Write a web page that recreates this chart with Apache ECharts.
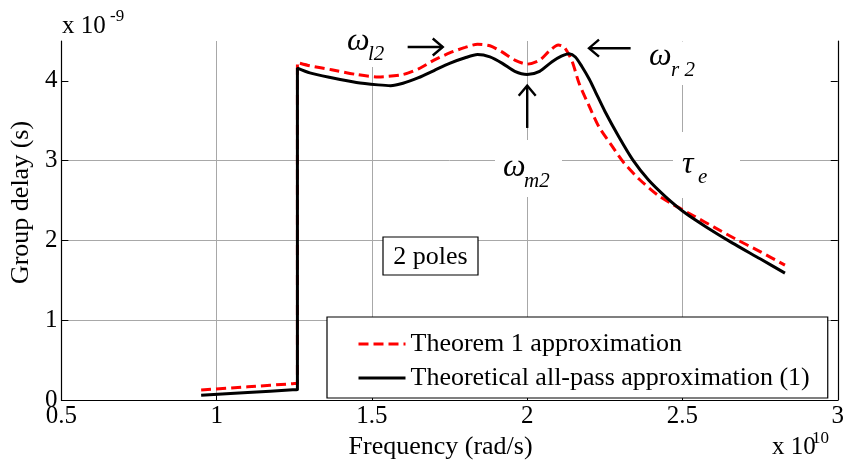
<!DOCTYPE html>
<html>
<head>
<meta charset="utf-8">
<script src="https://cdn.jsdelivr.net/npm/echarts@6/dist/echarts.min.js"></script>
<style>
  html, body { margin: 0; padding: 0; background: #ffffff; }
  #chart { width: 847px; height: 468px; }
</style>
</head>
<body>
<div id="chart"></div>
<script>
// Frequency axis is in units of 1e10 rad/s, group delay in units of 1e-9 s.
const freqTheorem  = [0.95, 1.10, 1.245, 1.26, 1.26, 1.30, 1.37, 1.45, 1.52, 1.60, 1.65, 1.70, 1.75, 1.80, 1.84, 1.88, 1.92, 1.96, 2.00, 2.04, 2.07, 2.10, 2.12, 2.145, 2.167, 2.20, 2.23, 2.27, 2.31, 2.36, 2.42, 2.47, 2.54, 2.60, 2.67, 2.75, 2.83];
const delayTheorem = [0.125, 0.165, 0.205, 0.21, 4.23, 4.19, 4.14, 4.08, 4.05, 4.08, 4.15, 4.26, 4.35, 4.42, 4.46, 4.44, 4.36, 4.26, 4.21, 4.26, 4.37, 4.45, 4.42, 4.24, 3.97, 3.68, 3.43, 3.20, 2.98, 2.77, 2.57, 2.45, 2.30, 2.17, 2.02, 1.86, 1.69];

const freqAllPass  = [0.95, 1.10, 1.245, 1.26, 1.26, 1.30, 1.37, 1.45, 1.52, 1.56, 1.60, 1.65, 1.70, 1.75, 1.80, 1.84, 1.88, 1.92, 1.96, 2.00, 2.04, 2.08, 2.11, 2.135, 2.155, 2.176, 2.20, 2.22, 2.25, 2.295, 2.34, 2.39, 2.445, 2.51, 2.58, 2.66, 2.75, 2.83];
const delayAllPass = [0.06, 0.095, 0.127, 0.13, 4.16, 4.10, 4.04, 3.98, 3.95, 3.94, 3.97, 4.04, 4.13, 4.22, 4.29, 4.33, 4.30, 4.22, 4.12, 4.08, 4.12, 4.24, 4.31, 4.34, 4.30, 4.18, 4.02, 3.86, 3.62, 3.30, 3.01, 2.76, 2.55, 2.34, 2.16, 1.97, 1.77, 1.59];

const seriesNames = ['Theorem 1 approximation', 'Theoretical all-pass approximation (1)'];
const xTicks = [0.5, 1, 1.5, 2, 2.5, 3];
const yTicks = [0, 1, 2, 3, 4];

const FONT = 'Liberation Serif';
const GRID_COLOR = '#a8a8a8';

const pairs = (xs, ys) => xs.map((x, i) => [x, ys[i]]);

const chart = echarts.init(document.getElementById('chart'), null, { renderer: 'canvas' });

const option = {
  backgroundColor: '#ffffff',
  animation: false,
  textStyle: { fontFamily: FONT, color: '#000' },
  grid: { left: 60, right: 6, top: 41, bottom: 68, containLabel: false },
  legend: {
    left: 327,
    top: 317,
    orient: 'vertical',
    itemWidth: 47,
    itemHeight: 26,
    itemGap: 8,
    padding: [14, 18, 7, 30],
    backgroundColor: '#ffffff',
    borderColor: '#000000',
    borderWidth: 1.2,
    itemStyle: { opacity: 0 },
    lineStyle: { width: 3 },
    textStyle: { fontFamily: FONT, fontSize: 26, color: '#000' },
    data: seriesNames
  },
  xAxis: {
    type: 'value',
    min: xTicks[0],
    max: xTicks[xTicks.length - 1],
    interval: 0.5,
    name: 'Frequency (rad/s)',
    nameLocation: 'middle',
    nameGap: 30,
    nameTextStyle: { fontFamily: FONT, fontSize: 26, color: '#000', padding: [0, 18, 0, 0] },
    axisLine: { show: true, onZero: false, lineStyle: { color: '#000', width: 1.2 } },
    axisTick: { show: true, inside: true, length: 7, lineStyle: { color: '#000' } },
    axisLabel: { fontFamily: FONT, fontSize: 25, color: '#000', margin: 4,
                 formatter: v => String(v) },
    splitLine: { show: true, lineStyle: { color: GRID_COLOR, width: 1 } }
  },
  yAxis: [
    {
      type: 'value',
      min: 0,
      max: 4.5,
      interval: 1,
      name: 'Group delay (s)',
      nameLocation: 'middle',
      nameGap: 19,
      nameRotate: 90,
      nameTextStyle: { fontFamily: FONT, fontSize: 26, color: '#000', padding: [0, 0, 0, 36] },
      axisLine: { show: true, onZero: false, lineStyle: { color: '#000', width: 1.2 } },
      axisTick: { show: true, inside: true, length: 7, customValues: yTicks, lineStyle: { color: '#000' } },
      axisLabel: { fontFamily: FONT, fontSize: 25, color: '#000', margin: 4, customValues: yTicks },
      splitLine: { show: true, showMaxLine: false, lineStyle: { color: GRID_COLOR, width: 1 } }
    },
    {
      type: 'value',
      position: 'right',
      min: 0,
      max: 4.5,
      interval: 1,
      axisLine: { show: true, onZero: false, lineStyle: { color: '#000', width: 1.2 } },
      axisTick: { show: true, inside: true, length: 7, customValues: yTicks, lineStyle: { color: '#000' } },
      axisLabel: { show: false },
      splitLine: { show: false }
    }
  ],
  series: [
    {
      name: seriesNames[0],
      type: 'line',
      data: pairs(freqTheorem, delayTheorem),
      showSymbol: false,
      symbol: 'none',
      smooth: 0.25,
      z: 3,
      lineStyle: { color: '#ff0000', width: 3, type: [10, 5] },
      itemStyle: { color: '#ff0000' }
    },
    {
      name: seriesNames[1],
      type: 'line',
      data: pairs(freqAllPass, delayAllPass),
      showSymbol: false,
      symbol: 'none',
      smooth: 0.25,
      z: 4,
      lineStyle: { color: '#000000', width: 3 },
      itemStyle: { color: '#000000' }
    }
  ]
};

chart.setOption(option);

// Annotations, anchored in data space (frequency, delay).
const px = (f, d) => chart.convertToPixel({ xAxisIndex: 0, yAxisIndex: 0 }, [f, d]);

function arrow(from, to, head) {
  const a = px(from[0], from[1]);
  const b = px(to[0], to[1]);
  const dx = b[0] - a[0], dy = b[1] - a[1];
  const len = Math.hypot(dx, dy);
  const ux = dx / len, uy = dy / len;
  const h1 = [b[0] - ux * head - uy * head * 0.85, b[1] - uy * head + ux * head * 0.85];
  const h2 = [b[0] - ux * head + uy * head * 0.85, b[1] - uy * head - ux * head * 0.85];
  const style = { stroke: '#000', lineWidth: 2.4, fill: null };
  return [
    { type: 'polyline', z: 10, shape: { points: [a, b] }, style },
    { type: 'polyline', z: 10, shape: { points: [h1, b, h2] }, style }
  ];
}

function whiteBox(x0, y0, x1, y1) {
  return { type: 'rect', z: 1, shape: { x: x0, y: y0, width: x1 - x0, height: y1 - y0 },
           style: { fill: '#ffffff', stroke: null } };
}

function plainText(x, y, text, size, extra) {
  return { type: 'text', z: 10, x: x, y: y,
           style: Object.assign({ text: text, fontFamily: FONT, fontSize: size, fill: '#000',
                                  verticalAlign: 'bottom', align: 'left' }, extra || {}) };
}

function symbolLabel(x, y, main, sub, subDx, subDy) {
  return [
    plainText(x, y, main, 32, { fontStyle: 'italic', verticalAlign: 'middle' }),
    plainText(x + subDx, y + subDy, sub, 21, { fontStyle: 'italic', verticalAlign: 'middle' })
  ];
}

const graphics = [
  // exponent markers for both axes
  plainText(62, 39, 'x 10', 25),
  plainText(110, 25, '-9', 17),
  plainText(772, 460, 'x 10', 25),
  plainText(812, 447, '10', 17),

  // white backing behind the annotation symbols
  whiteBox(338, 28, 396, 67),
  whiteBox(642, 41.5, 708, 85),
  whiteBox(495, 140, 562, 197),
  whiteBox(673, 132, 740, 198),

  // "2 poles" boxed note
  { type: 'rect', z: 5, shape: { x: 383, y: 237, width: 95, height: 38 },
    style: { fill: '#ffffff', stroke: '#000', lineWidth: 1.2 } },
  plainText(430.5, 257, '2 poles', 26, { align: 'center', verticalAlign: 'middle' }),

  ...symbolLabel(347, 42, 'ω', 'l2', 21, 12),
  ...symbolLabel(649, 57, 'ω', 'r 2', 22, 13),
  ...symbolLabel(503, 168, 'ω', 'm2', 21, 13),
  ...symbolLabel(682, 165, 'τ', 'e', 16, 12),

  ...arrow([1.615, 4.425], [1.728, 4.425], 10),
  ...arrow([2.333, 4.41], [2.199, 4.41], 10),
  ...arrow([2.0, 3.41], [2.0, 3.94], 10)
];

chart.setOption({ graphic: { elements: graphics } });
</script>
</body>
</html>
